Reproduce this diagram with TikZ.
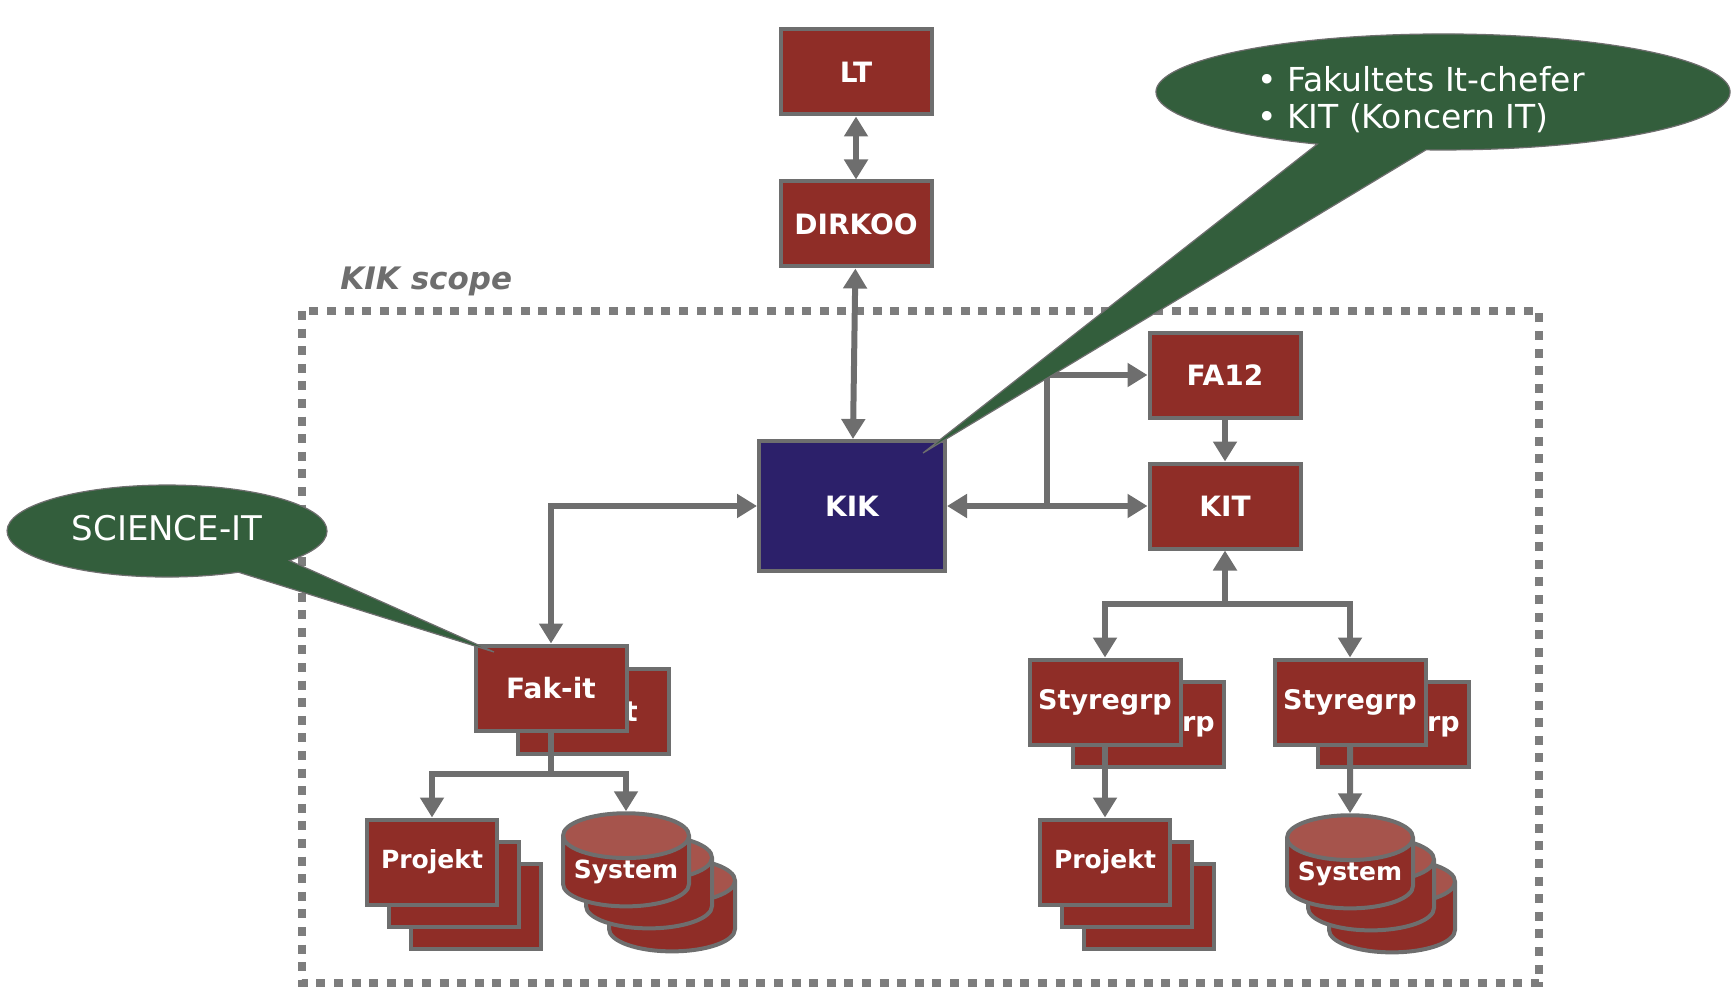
\documentclass[tikz,border=0pt]{standalone}
\usepackage{fontspec}
\newfontfamily\verdana{DejaVu Sans}[BoldFont={DejaVu Sans Bold}, ItalicFont={DejaVu Sans Oblique}, BoldItalicFont={DejaVu Sans Bold Oblique}]
\usepackage{tikz}
\usetikzlibrary{shapes.geometric, arrows.meta, calc}
\definecolor{kikred}{RGB}{143,45,39}
\definecolor{capred}{RGB}{166,84,76}
\definecolor{kikblue}{RGB}{44,32,106}
\definecolor{rimgray}{RGB}{110,110,110}
\definecolor{scopegray}{RGB}{125,125,125}
\definecolor{calloutgreen}{RGB}{51,94,60}
\tikzstyle{unit} = [rectangle, draw=rimgray, line width=2pt, fill=kikred, text=white, font=\verdana\bfseries\fontsize{14pt}{16pt}\selectfont, minimum width=75.5pt, minimum height=42.5pt, inner sep=0pt]
\tikzstyle{small} = [font=\verdana\bfseries\fontsize{12.5pt}{15pt}\selectfont]
\tikzstyle{store} = [cylinder, shape border rotate=90, aspect=0.43, draw=rimgray, line width=2pt, cylinder uses custom fill, cylinder body fill=kikred, cylinder end fill=capred, text=white, small, minimum width=63pt, minimum height=36.5pt, inner sep=0pt]
\tikzstyle{arrow} = [line width=3pt, draw=rimgray, ->, >={Triangle[length=10pt,width=11.5pt]}]
\tikzstyle{callout} = [fill=calloutgreen, draw=rimgray, line width=0.6pt]
\tikzstyle{callouttext} = [text=white, font=\verdana\fontsize{16.5pt}{18.5pt}\selectfont, align=left]

\begin{document}
\begin{tikzpicture}[x=0.5pt, y=-0.5pt, node distance=76pt]
\useasboundingbox (0,0) rectangle (1732,989);
% scope frame
\draw [draw=scopegray, line width=4pt, dash pattern=on 4.5pt off 4.3pt] (302,311) rectangle (1539,983);
\node (scope) [anchor=base west, inner sep=0pt, text=rimgray, font=\verdana\bfseries\itshape\fontsize{15.5pt}{18pt}\selectfont] at (340,290) {KIK scope};

\node (LT) [unit] at (856,72) {LT};
\node (DIRKOO) [unit, below of=LT] {DIRKOO};
\node (KIK) [unit, fill=kikblue, minimum width=93pt, minimum height=65pt, below of=DIRKOO, node distance=141pt, xshift=-2pt] {KIK};
\node (KIT) [unit, right of=KIK, node distance=186.5pt] {KIT};
\node (FA12) [unit, above of=KIT, node distance=65.5pt] {FA12};

% left branch
\node (fakitB) [unit] at (593,711) {Fak-it};
\node (fakit) [unit] at (551,688) {Fak-it};
\node (projA3) [unit, minimum width=65pt] at (476,906) {};
\node (projA2) [unit, minimum width=65pt] at (454,884) {};
\node (projA) [unit, small, minimum width=65pt] at (432,862) {Projekt};
\node (sysA3) [store] at (672,917) {\phantom{System}};
\node (sysA2) [store] at (649,894) {\phantom{System}};
\node (sysA) [store] at (626,872) {System};

% right branch
\node (styreAB) [unit, font=\verdana\bfseries\fontsize{13.5pt}{16pt}\selectfont] at (1148,724) {Styregrp};
\node (styreA) [unit, font=\verdana\bfseries\fontsize{13.5pt}{16pt}\selectfont] at (1105,702) {Styregrp};
\node (styreBB) [unit, font=\verdana\bfseries\fontsize{13.5pt}{16pt}\selectfont] at (1393,724) {Styregrp};
\node (styreB) [unit, font=\verdana\bfseries\fontsize{13.5pt}{16pt}\selectfont] at (1350,702) {Styregrp};
\node (projB3) [unit, minimum width=65pt] at (1149,906) {};
\node (projB2) [unit, minimum width=65pt] at (1127,884) {};
\node (projB) [unit, small, minimum width=65pt] at (1105,862) {Projekt};
\node (sysB3) [store] at (1392,918) {\phantom{System}};
\node (sysB2) [store] at (1371,896) {\phantom{System}};
\node (sysB) [store] at (1350,874) {System};

% connectors
\draw [arrow, <->] (LT) -- (DIRKOO);
\draw [arrow, <->] (DIRKOO) -- (KIK);
\draw [arrow, <->] (KIK) -| (fakit);
\coordinate (split) at ($(KIK.east)!0.5!(KIT.west)$);
\draw [arrow, <->] (KIK) -- (KIT);
\draw [arrow] (split) |- (FA12);
\draw [arrow] (FA12) -- (KIT);
\coordinate (kitsplit) at ($(KIT.south)+(0,53)$);
\draw [arrow] (kitsplit) -- (KIT);
\draw [arrow] (kitsplit) -| (styreA);
\draw [arrow] (kitsplit) -| (styreB);
\coordinate (fakitsplit) at ($(fakit.south)+(0,41)$);
\draw [line width=3pt, draw=rimgray] (fakit) -- (fakitsplit);
\draw [arrow] (fakitsplit) -| (projA);
\draw [arrow] (fakitsplit) -| (sysA);
\draw [arrow] (styreA) -- (projB);
\draw [arrow] (styreB) -- (sysB);

% callouts
\draw [callout] (923,453) -- (1317.2,144.1) arc[start angle=116, end angle=453.4, x radius=287, y radius=58] -- cycle;
\node (factext) [callouttext, anchor=base west] at (1250,129) {• Fakultets It-chefer\\• KIT (Koncern IT)};
\draw [callout] (494,652) -- (289.6,560.6) arc[start angle=40, end angle=-296.5, x radius=160, y radius=46] -- cycle;
\node (scitext) [callouttext, font=\verdana\fontsize{17pt}{19pt}\selectfont] at (167,528) {SCIENCE-IT};
\end{tikzpicture}
\end{document}
